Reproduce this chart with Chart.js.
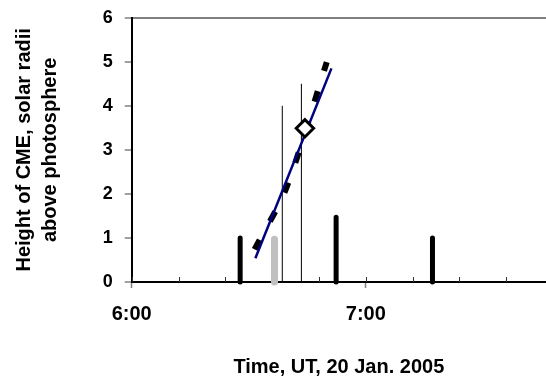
<!DOCTYPE html>
<html>
<head>
<meta charset="utf-8">
<script src="https://cdn.jsdelivr.net/npm/chart.js@4/dist/chart.umd.min.js"></script>
<style>
  body { margin: 0; background: #fff; }
  #wrap { width: 546px; height: 378px; }
</style>
</head>
<body>
<div id="wrap"><canvas id="cme-chart" width="546" height="378"></canvas></div>
<script>
// times are minutes after midnight (360 = 6:00), heights in solar radii
const xMin = 360;
const xMax = 466.2;
const xStep = 12;
const yTicks = [0, 1, 2, 3, 4, 5, 6];

const blackBarTimes = [387.8, 412.4, 437.1];
const blackBarHeights = [1.0, 1.47, 1.0];
const greyBarTimes = [396.6];
const greyBarHeights = [0.97];
const thinLineTimes = [398.6, 403.5];
const thinLineHeights = [4.0, 4.5];
const fitTimes = [391.7, 411.2];
const fitHeights = [0.54, 4.85];
const dashTimes = [391.5, 399.6, 410.0];
const dashHeights = [0.74, 2.13, 4.99];
const markTimes = [404.4];
const markHeights = [3.49];

Chart.defaults.font.family = '"Liberation Sans", Arial, sans-serif';
Chart.defaults.color = "#000";

function stems(times, heights) {
  const pts = [];
  times.forEach((t, i) => {
    pts.push({ x: t, y: 0 }, { x: t, y: heights[i] }, { x: t, y: null });
  });
  return pts;
}

function pairs(times, heights) {
  return times.map((t, i) => ({ x: t, y: heights[i] }));
}

function fmtTime(v) {
  const h = Math.floor(v / 60);
  const m = Math.round(v - h * 60);
  return h + ":" + (m < 10 ? "0" : "") + m;
}

// small inward tick marks on the time axis
const innerTicks = {
  id: "innerTicks",
  beforeDatasetsDraw(chart) {
    const xs = chart.scales.x;
    const ctx = chart.ctx;
    const bottom = chart.chartArea.bottom;
    ctx.save();
    ctx.strokeStyle = "#333";
    ctx.lineWidth = 1;
    xs.ticks.forEach((t) => {
      const px = Math.round(xs.getPixelForValue(t.value)) + 0.5;
      ctx.beginPath();
      ctx.moveTo(px, bottom - 5);
      ctx.lineTo(px, bottom);
      ctx.stroke();
    });
    ctx.restore();
  },
};

new Chart(document.getElementById("cme-chart").getContext("2d"), {
  type: "line",
  data: {
    datasets: [
      {
        label: "marker",
        data: pairs(markTimes, markHeights),
        showLine: false,
        pointStyle: "rectRot",
        pointRadius: 8.7,
        pointBorderWidth: 3,
        pointBackgroundColor: "#fff",
        pointBorderColor: "#000",
      },
      {
        label: "fit",
        data: pairs(fitTimes, fitHeights),
        borderColor: "#000080",
        borderWidth: 2.5,
        pointRadius: 0,
      },
      {
        label: "dashed",
        data: pairs(dashTimes, dashHeights),
        borderColor: "#000",
        borderWidth: 6,
        borderDash: [11, 21],
        borderCapStyle: "butt",
        tension: 0.3,
        pointRadius: 0,
      },
      {
        label: "thin",
        data: stems(thinLineTimes, thinLineHeights),
        borderColor: "#000",
        borderWidth: 1,
        pointRadius: 0,
      },
      {
        label: "grey",
        data: stems(greyBarTimes, greyBarHeights),
        borderColor: "#c0c0c0",
        borderWidth: 7,
        borderCapStyle: "round",
        pointRadius: 0,
      },
      {
        label: "black",
        data: stems(blackBarTimes, blackBarHeights),
        borderColor: "#000",
        borderWidth: 5,
        borderCapStyle: "round",
        pointRadius: 0,
      },
    ],
  },
  options: {
    responsive: false,
    animation: false,
    spanGaps: false,
    clip: false,
    layout: { autoPadding: false, padding: { top: 17.7, left: 0, right: 0, bottom: 0 } },
    plugins: { legend: { display: false }, tooltip: { enabled: false } },
    scales: {
      x: {
        type: "linear",
        min: xMin,
        max: xMax,
        afterFit: (s) => { s.height = 96; s.paddingLeft = 0; s.paddingRight = 0; },
        border: { color: "#000", width: 2 },
        grid: {
          drawOnChartArea: false,
          drawTicks: true,
          tickLength: 6,
          tickWidth: 1.5,
          tickColor: (c) => (c.tick && c.tick.value % 60 === 0 ? "#808080" : "rgba(0,0,0,0)"),
        },
        ticks: {
          stepSize: xStep,
          includeBounds: false,
          autoSkip: false,
          maxRotation: 0,
          padding: 14,
          font: { size: 20, weight: "bold" },
          callback: (v) => (v % 60 === 0 ? fmtTime(v) : ""),
        },
        title: {
          display: true,
          text: "Time, UT, 20 Jan. 2005",
          font: { size: 20, weight: "bold", lineHeight: 1 },
          padding: { top: 0, bottom: 0.2 },
        },
      },
      y: {
        min: yTicks[0],
        max: yTicks[yTicks.length - 1],
        afterFit: (s) => { s.width = 131.7; s.paddingTop = 0; s.paddingBottom = 0; },
        afterBuildTicks: (s) => { s.ticks = yTicks.map((v) => ({ value: v })); },
        border: { color: "#000", width: 2 },
        grid: {
          color: (c) => (c.tick && c.tick.value === 6 ? "#808080" : "rgba(0,0,0,0)"),
          lineWidth: 2,
          tickLength: 7,
          tickColor: "#808080",
          tickWidth: 1.5,
        },
        ticks: {
          padding: 12,
          font: { size: 18, weight: "bold" },
        },
        title: {
          display: true,
          text: ["Height of CME, solar radii", "above photosphere"],
          font: { size: 20, weight: "bold", lineHeight: 1.3 },
          padding: { top: 11.8, bottom: 0 },
        },
      },
    },
  },
  plugins: [innerTicks],
});
</script>
</body>
</html>
